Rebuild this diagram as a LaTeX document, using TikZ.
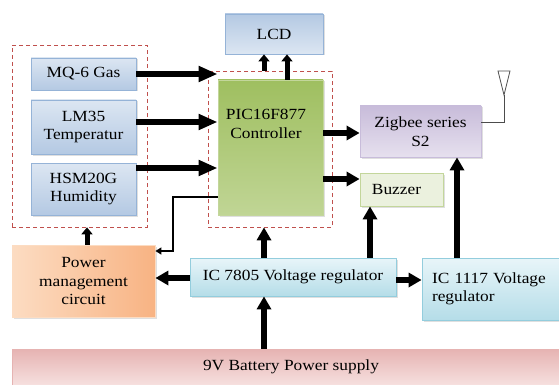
\documentclass[tikz,border=0pt]{standalone}
\usepackage{fontspec}
\setmainfont{Liberation Serif}[FakeStretch=1.12]
\usepackage{tikz}
\usetikzlibrary{arrows.meta,shadows}
\definecolor{ink}{HTML}{000000}
\definecolor{dashred}{HTML}{C0504D}
\definecolor{sensortop}{HTML}{DCE6F2}
\definecolor{sensorbot}{HTML}{B4C9E3}
\definecolor{sensorline}{HTML}{95B3D7}
\definecolor{pictop}{HTML}{9FBF60}
\definecolor{picbot}{HTML}{C0D595}
\definecolor{zigtop}{HTML}{C8BCDA}
\definecolor{zigbot}{HTML}{E6E0EE}
\definecolor{buzfill}{HTML}{EBF1DE}
\definecolor{buzline}{HTML}{C3D69B}
\definecolor{ictop}{HTML}{E8F5F9}
\definecolor{icbot}{HTML}{B5DDE8}
\definecolor{icline}{HTML}{93CDDD}
\definecolor{pwrleft}{HTML}{FCDCC2}
\definecolor{pwrright}{HTML}{F8B383}
\definecolor{battop}{HTML}{E6B3B2}
\definecolor{batbot}{HTML}{F6E0DF}

\begin{document}
\begin{tikzpicture}[x=1pt,y=-1pt,
  box/.style={draw=sensorline,line width=0.8pt,align=center,inner sep=0pt,font=\fontsize{15.5}{18.5}\selectfont,
    drop shadow={opacity=0.25,shadow xshift=1.5pt,shadow yshift=-1.5pt}},
  sensor/.style={box,top color=sensortop,bottom color=sensorbot},
  icbox/.style={box,draw=icline,top color=ictop,bottom color=icbot},
  group/.style={draw=dashred,dash pattern=on 4pt off 3pt,line width=0.7pt,inner sep=0pt},
  arrow/.style={-{Triangle[length=13pt,width=14pt]},line width=5.5pt,draw=ink},
  long/.style={-{Triangle[length=19pt,width=15pt]},line width=6pt,draw=ink},
  short/.style={-{Triangle[length=7pt,width=11pt]},line width=5pt,draw=ink},
  thin/.style={-{Triangle[length=6pt,width=7pt]},line width=2.2pt,draw=ink}
]
\useasboundingbox (0,0) rectangle (559,385);
\node[group,minimum width=135pt,minimum height=182pt] (sens) at (79.5,136) {};
\node[group,minimum width=124pt,minimum height=156pt] (ctrl) at (270,149) {};
\node[sensor,minimum width=105pt,minimum height=32pt] (mq) at (83.5,74) {MQ-6 Gas};
\node[sensor,minimum width=105pt,minimum height=54pt] (lm) at (83.5,127) {LM35\\Temperatur};
\node[sensor,minimum width=105pt,minimum height=52pt] (hsm) at (83.5,189) {HSM20G\\Humidity};
\node[box,draw=buzline,top color=pictop,bottom color=picbot,minimum width=105pt,minimum height=135pt] (pic) at (270.5,147.5) {};
\node[align=center,font=\fontsize{15.5}{18.5}\selectfont] (pictext) at (266,124) {PIC16F877\\Controller};
\node[box,top color=sensorbot,bottom color=sensortop,minimum width=98pt,minimum height=40pt] (lcd) at (274,34) {LCD};
\node[box,draw=zigtop,top color=zigtop,bottom color=zigbot,minimum width=121pt,minimum height=51pt] (zig) at (420.5,131.5) {Zigbee series\\S2};
\node[box,draw=buzline,fill=buzfill,minimum width=83pt,minimum height=33pt] (buz) at (401.5,189.5) {Buzzer\hspace{10pt}};
\node[icbox,minimum width=206pt,minimum height=38pt] (ic5) at (293,277) {IC 7805 Voltage regulator};
\node[icbox,align=left,text width=117pt,inner xsep=10pt,minimum height=62pt] (ic1) at (490.5,289) {IC 1117 Voltage\\regulator\\[4pt]};
\node[box,draw=pwrleft,left color=pwrleft,right color=pwrright,minimum width=143pt,minimum height=72pt] (pwr) at (83.5,281) {Power\\management\\circuit};
\node[box,draw=battop,top color=battop,bottom color=batbot,minimum width=547pt,minimum height=36pt] (bat) at (285.5,367) {\hspace{11pt}9V Battery Power supply};
\coordinate (ant) at (504,95);
\draw[long] (mq.east) -- (mq.east -| pic.west);
\draw[long] ([yshift=5pt]lm.east) -- ([yshift=5pt]lm.east -| pic.west);
\draw[long] ([yshift=21pt]hsm.east) -- ([yshift=21pt]hsm.east -| pic.west);
\draw[short] ([xshift=-6pt]ctrl.north) -- ([xshift=-6pt]ctrl.north |- lcd.south);
\draw[short] ([xshift=16.5pt]pic.north) -- ([xshift=16.5pt]pic.north |- lcd.south);
\draw[arrow] ([yshift=14.5pt]pic.east) -- ([yshift=14.5pt]pic.east -| zig.west);
\draw[arrow] ([yshift=-31.5pt]pic.east) -- ([yshift=-31.5pt]pic.east -| buz.west);
\draw[thin] ([yshift=-49.5pt]pic.west) -- ++(-45,0) |- ([yshift=30pt]pwr.east);
\draw[arrow] ([xshift=-29pt]ic5.north) -- ([xshift=-29pt]ic5.north |- ctrl.south);
\draw[arrow] ([xshift=77pt]ic5.north) -- ([xshift=77pt]ic5.north |- buz.south);
\draw[arrow] ([yshift=-3pt]ic5.east) -- ([yshift=-3pt]ic5.east -| ic1.west);
\draw[arrow] ([yshift=-1pt]ic5.west) -- ([yshift=-1pt]ic5.west -| pwr.east);
\draw[arrow] ([xshift=-33.5pt]ic1.north) -- ([xshift=-33.5pt]ic1.north |- zig.south);
\draw[arrow] ([xshift=-21.5pt]bat.north) -- ([xshift=-21.5pt]bat.north |- ic5.south);
\draw[short] ([xshift=3.5pt]pwr.north) -- ([xshift=3.5pt]pwr.north |- sens.south);
\draw[line width=0.8pt,draw=black!70] ([yshift=9.5pt]zig.east) -| (ant);
\draw[line width=0.8pt,draw=black!70] (ant) -- (498,71) -- (510,71) -- cycle;
\end{tikzpicture}
\end{document}
